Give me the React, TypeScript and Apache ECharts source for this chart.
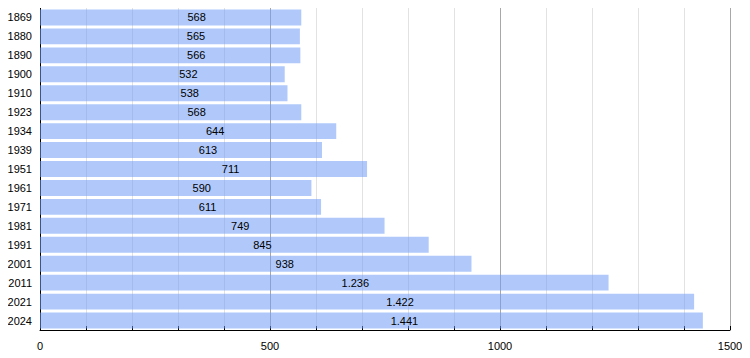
import React, { useEffect, useRef } from "react";
import * as echarts from "echarts";

const years = ["1869","1880","1890","1900","1910","1923","1934","1939","1951","1961","1971","1981","1991","2001","2011","2021","2024"];
const population = [568,565,566,532,538,568,644,613,711,590,611,749,845,938,1236,1422,1441];

function fmt(v: number): string {
  const s = String(Math.round(v));
  return s.replace(/\B(?=(\d{3})+(?!\d))/g, ".");
}

export default function App() {
  const ref = useRef<HTMLDivElement>(null);
  useEffect(() => {
    const chart = echarts.init(ref.current!, null, { renderer: "svg" });
    chart.setOption({
      animation: false,
      textStyle: { fontFamily: "Liberation Sans, Arial, sans-serif" },
      grid: { left: 40, right: 20, top: 8, bottom: 28, containLabel: false },
      xAxis: {
        type: "value",
        min: 0,
        max: 1500,
        interval: 100,
        axisLine: { show: true, lineStyle: { color: "#000", width: 1 } },
        axisTick: { show: true, inside: true, length: 4, lineStyle: { color: "#000" } },
        axisLabel: {
          color: "#000",
          fontSize: 11,
          margin: 10,
          formatter: (v: number) => (v % 500 === 0 ? String(v) : ""),
        },
        splitLine: {
          show: true,
          lineStyle: { color: ["#a8a8a8", "#e2e2e2", "#e2e2e2", "#e2e2e2", "#e2e2e2"], width: 1 },
        },
      },
      yAxis: {
        type: "category",
        data: years,
        inverse: true,
        axisLine: { show: true, lineStyle: { color: "#000", width: 1 } },
        axisTick: { show: false },
        axisLabel: { color: "#000", fontSize: 11, margin: 8 },
        splitLine: { show: false },
      },
      series: [
        {
          type: "bar",
          data: population.map((v) => ({
            value: v,
            label: { offset: [Math.round(22 + v * 0.0075), 0] },
          })),
          barCategoryGap: "16%",
          itemStyle: { color: "rgba(111,156,245,0.55)" },
          label: {
            show: true,
            position: "inside",
            color: "#000",
            fontSize: 11,
            formatter: (p: any) => fmt(p.value),
          },
        },
      ],
    });
    return () => chart.dispose();
  }, []);
  return <div ref={ref} style={{ width: 750, height: 358, margin: -8 }} />;
}
